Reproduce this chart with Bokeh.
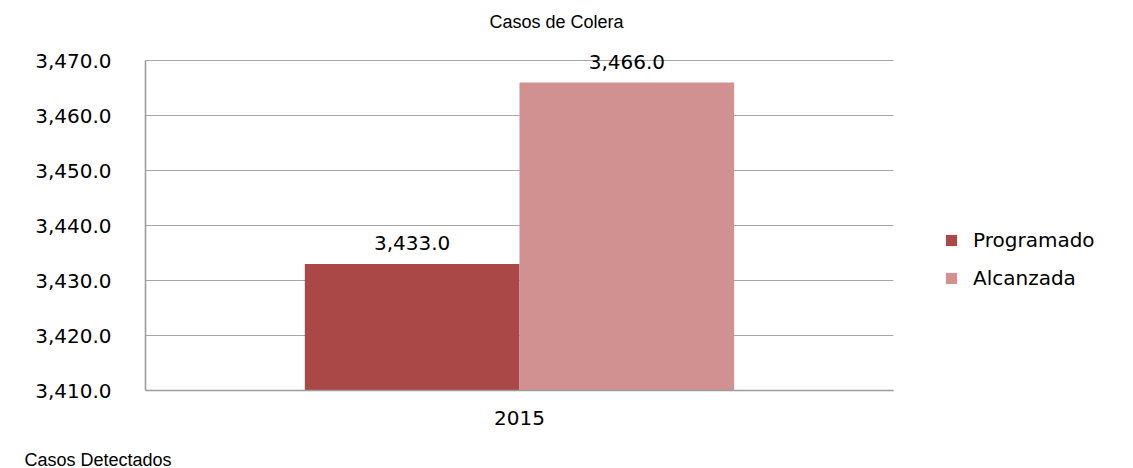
from bokeh.plotting import figure
from bokeh.models import (Range1d, NumeralTickFormatter, FixedTicker, Grid,
                          Legend, LegendItem, ColumnDataSource, LabelSet, Label)
from bokeh.embed import file_html
from bokeh.resources import INLINE
from bokeh.core.properties import value

# ---- data ----
chart_title = "Casos de Colera"
footer_text = "Casos Detectados"
categories = ["2015"]
series_names = ["Programado", "Alcanzada"]
programado = [3433.0]
alcanzada = [3466.0]
y_ticks = [3410, 3420, 3430, 3440, 3450, 3460, 3470]
y_min, y_max = 3410, 3470
colors = ["#A94846", "#D19190"]

VERDANA = "DejaVu Sans"
ARIAL = "Liberation Sans"
FS = "20px"

W, H = 1133, 468
# plot area in canvas pixels
PL, PR, PT, PB = 145, 893, 60, 390

bw = 0.287                     # bar width as a fraction of one category slot
n = len(categories)
centers = [i + 0.5 for i in range(n)]

src = ColumnDataSource(dict(
    xp=[c - bw / 2 for c in centers],
    xa=[c + bw / 2 for c in centers],
    programado=programado,
    alcanzada=alcanzada,
    lab_p=[f"{v:,.1f}" for v in programado],
    lab_a=[f"{v:,.1f}" for v in alcanzada],
))

xu = (PR - PL) / n                 # px per category unit
yu = (PB - PT) / (y_max - y_min)   # px per value unit
p = figure(width=W, height=H,
           x_range=Range1d(-PL / xu, (W - PL) / xu),
           y_range=Range1d(y_min - (H - PB) / yu, y_max + PT / yu),
           output_backend="svg", toolbar_location=None, min_border=0)

use_cross = "cross_bounds" in Grid.properties()
if not use_cross:
    p.segment(x0=0, x1=n, y0=y_ticks, y1=y_ticks, line_color="#A6A6A6", line_width=1.2)

r1 = p.vbar(x="xp", top="programado", bottom=y_min, width=bw, source=src,
            fill_color=colors[0], line_color=None)
r2 = p.vbar(x="xa", top="alcanzada", bottom=y_min, width=bw, source=src,
            fill_color=colors[1], line_color=None)

for xc, col, lab in [("xp", "programado", "lab_p"), ("xa", "alcanzada", "lab_a")]:
    p.add_layout(LabelSet(x=xc, y=col, text=lab, source=src,
                          y_offset=14, text_align="center", text_baseline="alphabetic",
                          text_font=value(VERDANA), text_font_size=FS, text_color="#000000"))

# axes, pinned at the data origin of the plot area
p.yaxis.fixed_location = 0
p.xaxis.fixed_location = y_min
p.yaxis.ticker = FixedTicker(ticks=y_ticks)
p.yaxis.bounds = (y_min, y_max)
p.yaxis.formatter = NumeralTickFormatter(format="0,0.0")
p.yaxis.major_label_standoff = 34
p.xaxis.ticker = FixedTicker(ticks=centers)
p.xaxis.major_label_overrides = {c: cat for c, cat in zip(centers, categories)}
p.xaxis.bounds = (0, n)
p.xaxis.major_label_standoff = 20
for ax in (p.xaxis, p.yaxis):
    ax.major_label_text_font = VERDANA
    ax.major_label_text_font_size = FS
    ax.major_label_text_color = "#000000"
    ax.major_tick_line_color = None
    ax.minor_tick_line_color = None
    ax.major_tick_out = 0
    ax.major_tick_in = 0
    ax.axis_line_color = "#9C9C9C"
    ax.axis_line_width = 1.6

p.xgrid.grid_line_color = None
if use_cross:
    p.ygrid.ticker = FixedTicker(ticks=y_ticks)
    p.ygrid.bounds = (y_min, y_max)
    p.ygrid.cross_bounds = (0, n)
    p.ygrid.grid_line_color = "#A6A6A6"
    p.ygrid.grid_line_width = 1.2
else:
    p.ygrid.grid_line_color = None
p.outline_line_color = None
p.background_fill_color = "white"
p.border_fill_color = "white"

legend = Legend(items=[LegendItem(label=series_names[0], renderers=[r1]),
                       LegendItem(label=series_names[1], renderers=[r2])],
                location=(944, H - 289.5), orientation="vertical",
                glyph_width=14, glyph_height=14, label_height=23, spacing=14,
                label_standoff=15, padding=0, margin=0,
                label_text_font=VERDANA, label_text_font_size=FS,
                label_text_color="#000000",
                border_line_color=None, background_fill_alpha=0)
p.add_layout(legend)

p.add_layout(Label(x=556, y=H - 21, x_units="screen", y_units="screen", text=chart_title,
                   text_align="center", text_baseline="alphabetic",
                   text_font=ARIAL, text_font_size="18px", text_color="#000000"))
p.add_layout(Label(x=24, y=H - 459, x_units="screen", y_units="screen", text=footer_text,
                   text_align="left", text_baseline="alphabetic",
                   text_font=ARIAL, text_font_size="18px", text_color="#000000"))

open("out.html", "w").write(file_html(p, INLINE))
